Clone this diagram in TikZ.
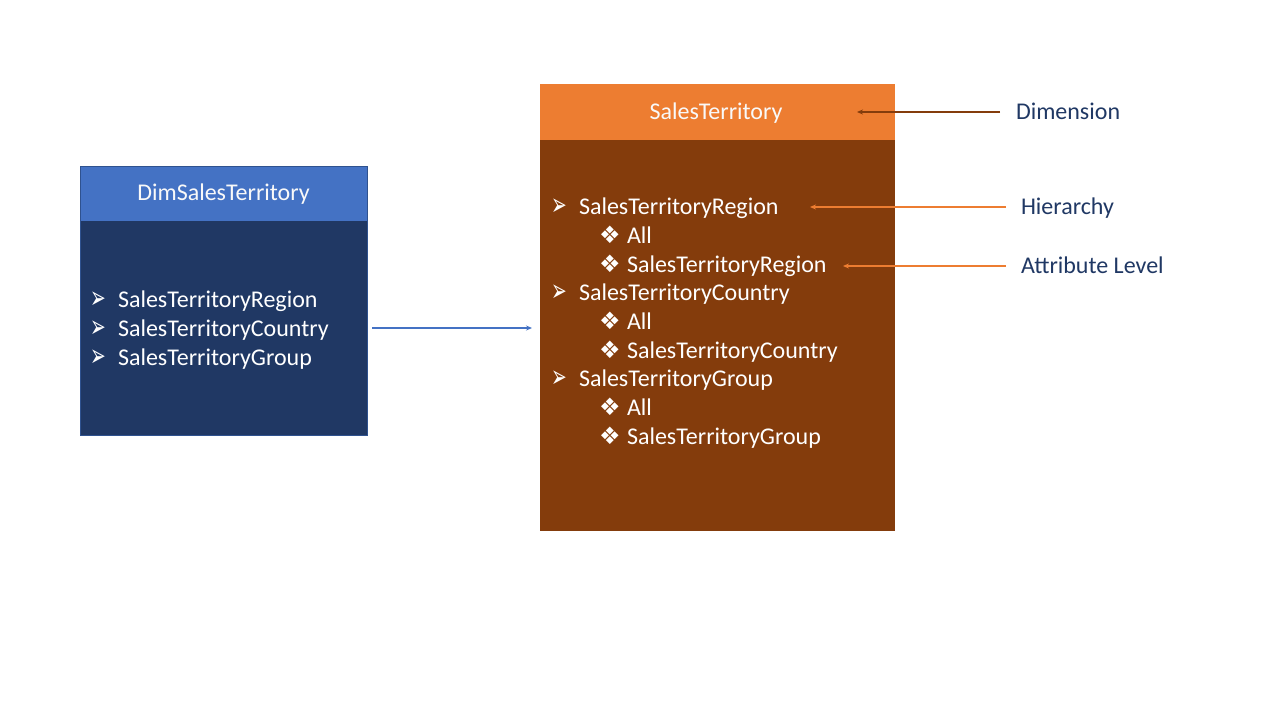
\documentclass[tikz,border=0pt]{standalone}
\usepackage{fontspec}
\usepackage{graphicx}
\setmainfont{Carlito}
\newfontfamily\symfont{DejaVu Sans}
\usetikzlibrary{arrows.meta}
\definecolor{hdrblue}{HTML}{4472C4}
\definecolor{bodyblue}{HTML}{203864}
\definecolor{edgeblue}{HTML}{2F528F}
\definecolor{hdrorange}{HTML}{ED7D31}
\definecolor{bodybrown}{HTML}{843C0C}
\definecolor{labelnavy}{HTML}{203864}
\newcommand{\arrbul}{\makebox[28pt][l]{\smash{\raisebox{-1.5pt}{\scalebox{0.75}[1.25]{\symfont\fontsize{25}{29}\selectfont ➢}}}}}
\newcommand{\diabul}{\makebox[28pt][l]{\smash{\symfont\fontsize{24}{29}\selectfont ❖}}}
\tikzset{
  every node/.style={font=\fontsize{24}{29}\selectfont, inner sep=0pt, outer sep=0pt},
  itemtext/.style={anchor=base west, text=white},
  hdrtext/.style={anchor=base, text=white!95!gray},
  labeltext/.style={anchor=base west, text=labelnavy},
  conn/.style={line width=1.3pt, -{Stealth[length=6pt,width=5pt]}},
}
\begin{document}
\begin{tikzpicture}[x=1pt,y=-1pt]
\useasboundingbox (0,0) rectangle (1280,720);
% left box
\fill[bodyblue] (80,166) rectangle (367,435);
\fill[hdrblue] (80,166) rectangle (367,221);
\draw[edgeblue, line width=0.8pt] (80,166) rectangle (367,435);
\node[hdrtext] (dimtitle) at (223.5,200) {DimSalesTerritory};
\node[itemtext] (l1) at (90,307) {\arrbul SalesTerritoryRegion};
\node[itemtext] (l2) at (90,336) {\arrbul SalesTerritoryCountry};
\node[itemtext] (l3) at (90,365) {\arrbul SalesTerritoryGroup};
\coordinate (lout) at (372,328);
% right box
\fill[bodybrown] (540,84) rectangle (895,531);
\fill[hdrorange] (540,84) rectangle (895,140);
\coordinate (rin) at (532,328);
\node[hdrtext] (sttitle) at (716,119) {SalesTerritory};
\node[itemtext] (r1) at (551,214) {\arrbul SalesTerritoryRegion};
\node[itemtext] (r1a) at (599,243) {\diabul All};
\node[itemtext] (r1b) at (599,272) {\diabul SalesTerritoryRegion};
\node[itemtext] (r2) at (551,300) {\arrbul SalesTerritoryCountry};
\node[itemtext] (r2a) at (599,329) {\diabul All};
\node[itemtext] (r2b) at (599,358) {\diabul SalesTerritoryCountry};
\node[itemtext] (r3) at (551,386) {\arrbul SalesTerritoryGroup};
\node[itemtext] (r3a) at (599,415) {\diabul All};
\node[itemtext] (r3b) at (599,444) {\diabul SalesTerritoryGroup};
% labels
\node[labeltext] (ldim) at (1016,119) {Dimension};
\node[labeltext] (lhier) at (1021,214) {Hierarchy};
\node[labeltext] (lattr) at (1021,273) {Attribute Level};
\coordinate (ddim) at (1000,112);
\coordinate (tdim) at (857,112);
\coordinate (dhier) at (1006,207);
\coordinate (thier) at (810,207);
\coordinate (dattr) at (1006,266);
\coordinate (tattr) at (843,266);
% connectors
\draw[conn, hdrblue] (lout) -- (rin);
\draw[conn, bodybrown] (ddim) -- (tdim);
\draw[conn, hdrorange] (dhier) -- (thier);
\draw[conn, hdrorange] (dattr) -- (tattr);
\end{tikzpicture}
\end{document}
